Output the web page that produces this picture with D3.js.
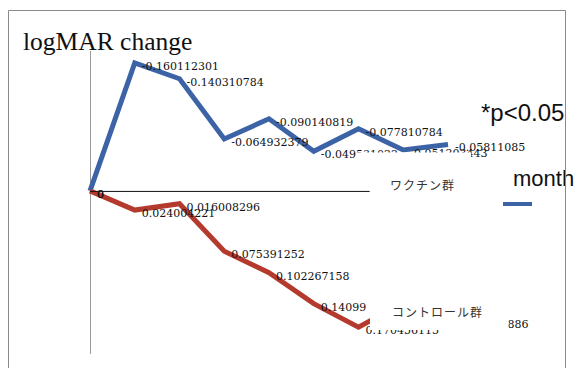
<!DOCTYPE html>
<html><head><meta charset="utf-8">
<script src="https://cdn.jsdelivr.net/npm/d3@7"></script>
<style>html,body{margin:0;padding:0;background:#fff;}</style>
</head><body>
<svg id="c" width="580" height="368"></svg>
<script>
// ---- data ----
const months = [0, 1, 2, 3, 4, 5, 6, 7, 8];
const vaccine = [0, -0.160112301, -0.140310784, -0.064932379, -0.090140819, -0.049531022, -0.077810784, -0.051203443, -0.05811085];
const control = [0, 0.024004221, 0.016008296, 0.075391252, 0.102267158, 0.14099, 0.170456115, 0.14, 0.162410886];
const seriesNames = ["ワクチン群", "コントロール群"];
const title = "logMAR change";
const note = "*p<0.05";
const xTitle = "month";
const axisEnd = 6.25;

const SERIF = '"Liberation Serif"';
const DSERIF = '"DejaVu Serif"';
const SANS = '"Liberation Sans"';
const CJK = '"Noto Sans CJK JP"';

const svg = d3.select("#c");
const x = d3.scaleLinear().domain([0, 8]).range([90, 448]);
const y = d3.scaleLinear().domain([-0.175, 0.204]).range([51, 354]);

const blue = "#3b63a5", red = "#b43a2e";

// y axis line
svg.append("line").attr("x1", x(0) + 0.5).attr("x2", x(0) + 0.5)
  .attr("y1", y.range()[0]).attr("y2", y.range()[1])
  .attr("stroke", "#9a9a9a").attr("stroke-width", 1);

const line = d3.line().x((d, i) => x(months[i])).y(d => y(d));

function drawSeries(vals, color) {
  svg.append("path").datum(vals).attr("d", line)
    .attr("fill", "none").attr("stroke", color).attr("stroke-width", 5)
    .attr("stroke-linejoin", "miter");
}
drawSeries(vaccine, blue);
drawSeries(control, red);

function drawLabels(vals) {
  svg.append("g").selectAll("text").data(vals).join("text")
    .attr("x", (d, i) => x(months[i]) + 7)
    .attr("y", d => y(d) + 4)
    .attr("dominant-baseline", "middle")
    .style("font-family", DSERIF)
    .style("font-size", "11px")
    .attr("fill", "#111")
    .text(d => String(d));
}
drawLabels(vaccine);
drawLabels(control);

// white legend box covering part of plot
const cover = svg.append("g").attr("fill", "#fff");
cover.append("rect").attr("x", 356).attr("y", 152.5).attr("width", 115).attr("height", 138);
cover.append("rect").attr("x", 370).attr("y", 290).attr("width", 138.5).attr("height", 40);

// zero line
svg.append("line").attr("x1", x(0)).attr("x2", x(axisEnd))
  .attr("y1", y(0) + 0.5).attr("y2", y(0) + 0.5)
  .attr("stroke", "#111").attr("stroke-width", 1);

// legend texts
svg.append("text").attr("x", 390).attr("y", 190)
  .style("font-family", CJK).style("font-size", "12px")
  .attr("letter-spacing", 1).attr("fill", "#333").text(seriesNames[0]);
svg.append("text").attr("x", 392).attr("y", 317)
  .style("font-family", CJK).style("font-size", "12px")
  .attr("letter-spacing", 1).attr("fill", "#333").text(seriesNames[1]);

// title
svg.append("text").attr("x", 23).attr("y", 50)
  .style("font-family", SERIF).style("font-size", "25.5px")
  .attr("fill", "#111").text(title);

svg.append("text").attr("x", 481).attr("y", 121)
  .style("font-family", SANS).style("font-size", "24px")
  .attr("fill", "#111").text(note);

svg.append("text").attr("x", 513).attr("y", 186)
  .style("font-family", SANS).style("font-size", "22px")
  .attr("fill", "#111").text(xTitle);

svg.append("line").attr("x1", 503).attr("x2", 532).attr("y1", 204).attr("y2", 204)
  .attr("stroke", blue).attr("stroke-width", 4);

// outer frame
const frame = svg.append("g").attr("stroke", "#8a8a8a").attr("stroke-width", 1).attr("fill", "none");
frame.append("path").attr("d", "M8.5,368V10.5H565.5V368");
</script>
</body></html>
